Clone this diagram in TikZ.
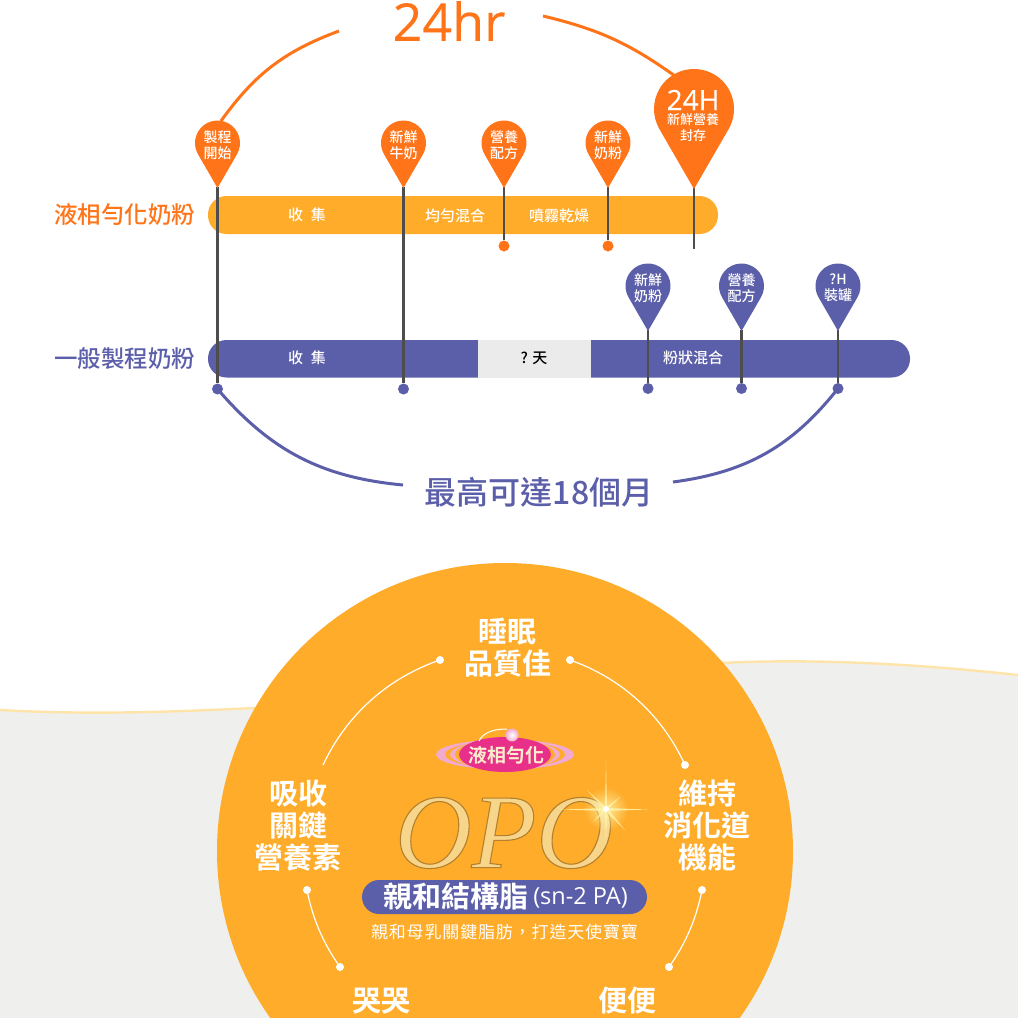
\documentclass[tikz,border=0pt]{standalone}
\usepackage{fontspec}
\usepackage{xcolor}
\usetikzlibrary{positioning,calc,fadings}
\setmainfont{Noto Sans CJK TC}
\newfontfamily\boldfont{Noto Sans CJK TC Bold}
\newfontfamily\mediumfont{Noto Sans CJK TC Medium}
\newfontfamily\latinfont{Open Sans}
\newfontfamily\heavylatinfont[FakeBold=0.25]{Open Sans}
\newfontfamily\opofont{Liberation Serif Italic}
\definecolor{liquidcolor}{RGB}{255,116,24}
\definecolor{amberbar}{RGB}{254,172,41}
\definecolor{violetbar}{RGB}{91,94,169}
\definecolor{stemcolor}{RGB}{77,77,77}
\definecolor{waitcolor}{RGB}{235,235,235}
\definecolor{floorcolor}{RGB}{239,239,237}
\definecolor{creamline}{RGB}{255,228,170}
\definecolor{goldcolor}{RGB}{247,214,140}
\definecolor{logopink}{RGB}{232,48,138}
\definecolor{logolight}{RGB}{243,170,207}
\definecolor{sparkcolor}{RGB}{255,244,170}
\tikzfading[name=glowfade, inner color=transparent!15, outer color=transparent!100]
\newcommand{\pinshape}[5]{% colour, x, y, radius, tip y
  \fill[#1] (#2,#5) -- ($(#2,#3)+(30:#4)$) arc[start angle=30,end angle=-210,radius=#4] -- cycle;}
\begin{document}
\begin{tikzpicture}[
    x=1pt, y=-1pt,
    every node/.style={inner sep=0pt, align=center},
    rowlabel/.style={font=\mediumfont\fontsize{23.5}{23.5}\selectfont},
    pintext/.style={text=white, font=\mediumfont\fontsize{14}{16}\selectfont},
    bartext/.style={text=white, font=\mediumfont\fontsize{15}{15}\selectfont},
    stem/.style={stemcolor, line width=2.4pt},
    orangedot/.style={circle, fill=liquidcolor, minimum size=11pt},
    violetdot/.style={circle, fill=violetbar, minimum size=11pt},
    whitedot/.style={circle, fill=white, minimum size=8pt},
    span/.style={line width=3pt},
    ring/.style={white, line width=1.2pt},
    benefit/.style={text=white, font=\boldfont\fontsize{29}{32}\selectfont},
    ray/.style={sparkcolor, opacity=0.85}
]
\useasboundingbox (0,0) rectangle (1018,1018);
\fill[white] (0,0) rectangle (1018,1018);

% Floor
\fill[floorcolor] (0,710) .. controls (90,715) and (170,712) .. (255,708) -- (720,663)
    .. controls (800,659) and (900,662) .. (1018,675) -- (1018,1018) -- (0,1018) -- cycle;
\draw[creamline, line width=2.4pt] (0,710) .. controls (90,715) and (170,712) .. (255,708);
\draw[creamline, line width=2.4pt] (720,663) .. controls (800,659) and (900,662) .. (1018,675);

% Bars
\fill[amberbar, rounded corners=18.5pt] (208,196) rectangle (718,234);
\fill[violetbar, rounded corners=18.5pt] (208,340) rectangle (910,377.5);
\fill[waitcolor] (478,340) rectangle (591,377.5);

\node[rowlabel, text=liquidcolor] (liquidrow) at (124.5,215) {液相勻化奶粉};
\node[rowlabel, text=violetbar] (commonrow) at (124.5,359) {一般製程奶粉};
\node[bartext] (collect1) at (307,215) {收\hspace{8pt}集};
\node[bartext] (mix1) at (455,216) {均勻混合};
\node[bartext] (dry1) at (559,216) {噴霧乾燥};
\node[bartext] (collect2) at (307,358) {收\hspace{8pt}集};
\node[font=\mediumfont\fontsize{15}{15}\selectfont] (wait) at (534,358) {? 天};
\node[bartext] (mix2) at (693,358) {粉狀混合};

% End dots
\node[violetdot] (dot1) at (217.5,389) {};
\node[violetdot] (dot2) at (403.5,389) {};
\node[orangedot] (dot3) at (504,246) {};
\node[orangedot] (dot4) at (608,246) {};
\coordinate (dot5) at (694,249);
\node[violetdot] (dot6) at (648,388.5) {};
\node[violetdot] (dot7) at (741.5,388.5) {};
\node[violetdot] (dot8) at (838,388.5) {};

% Stems
\coordinate (tip1) at (217.5,187);
\coordinate (tip2) at (403.5,187);
\coordinate (tip3) at (504,187);
\coordinate (tip4) at (608,187);
\coordinate (tip5) at (694,187);
\coordinate (tip6) at (648,330);
\coordinate (tip7) at (741.5,330);
\coordinate (tip8) at (838,330);
\draw[stem] (tip1) -- (dot1);
\draw[stem] (tip2) -- (dot2);
\draw[stem] (tip3) -- (dot3);
\draw[stem] (tip4) -- (dot4);
\draw[stem] (tip5) -- (dot5);
\draw[stem] (tip6) -- (dot6);
\draw[stem] (tip7) -- (dot7);
\draw[stem] (tip8) -- (dot8);

% Pins
\pinshape{liquidcolor}{217.5}{143}{22.5}{188}
\pinshape{liquidcolor}{403.5}{143}{22.5}{188}
\pinshape{liquidcolor}{504}{143}{22.5}{188}
\pinshape{liquidcolor}{608}{143}{22.5}{188}
\pinshape{liquidcolor}{694}{109}{40}{189}
\pinshape{violetbar}{648}{286}{22.5}{331}
\pinshape{violetbar}{741.5}{286}{22.5}{331}
\pinshape{violetbar}{838}{286}{22.5}{331}
\node[pintext] (pin1) at (217.5,145) {製程\\開始};
\node[pintext] (pin2) at (403.5,145) {新鮮\\牛奶};
\node[pintext] (pin3) at (504,145) {營養\\配方};
\node[pintext] (pin4) at (608,145) {新鮮\\奶粉};
\node[text=white, font=\heavylatinfont\fontsize{28}{28}\selectfont] (pin5a) at (693,100) {24H};
\node[text=white, font=\mediumfont\fontsize{13}{15.5}\selectfont] (pin5b) at (693,127.5) {新鮮營養\\封存};
\node[pintext] (pin6) at (648,288) {新鮮\\奶粉};
\node[pintext] (pin7) at (741.5,288) {營養\\配方};
\node[pintext] (pin8) at (838,288) {?H\\裝罐};

% Spans
\node[text=liquidcolor, font=\heavylatinfont\fontsize{52}{52}\selectfont] (hours) at (449,21) {24hr};
\node[text=violetbar, font=\mediumfont\fontsize{32}{32}\selectfont] (months) at (539,492) {最高可達18個月};
\coordinate (hoursleft) at (339,31);
\coordinate (hoursright) at (543,16);
\coordinate (monthsleft) at (403,485);
\coordinate (monthsright) at (673,482);
\coordinate (pin1top) at (221,121);
\coordinate (pin5top) at (675,76);
\draw[span, liquidcolor] (pin1top) to[bend left=17] (hoursleft);
\draw[span, liquidcolor] (hoursright) to[bend left=11] (pin5top);
\draw[span, violetbar] (dot1.center) to[bend right=22] (monthsleft);
\draw[span, violetbar] (monthsright) to[bend right=22] (dot8.center);

% Circle
\fill[amberbar] (505,851) circle[radius=288];
\node[whitedot] (ringa) at (440,660) {};
\coordinate (ringb) at (323,765);
\node[whitedot] (ringc) at (570,660) {};
\node[whitedot] (ringd) at (685,765) {};
\node[whitedot] (ringe) at (307,890) {};
\node[whitedot] (ringf) at (340,967) {};
\node[whitedot] (ringg) at (702,890) {};
\node[whitedot] (ringh) at (669,967) {};
\draw[ring] (ringa.center) to[bend right=23, looseness=0.9] (ringb);
\draw[ring] (ringc.center) to[bend left=23, looseness=0.9] (ringd.center);
\draw[ring] (ringe.center) to[bend right=12, looseness=0.9] (ringf.center);
\draw[ring] (ringg.center) to[bend left=12, looseness=0.9] (ringh.center);

\node[benefit] (sleep) at (507.5,648) {睡眠\\品質佳};
\node[benefit] (absorb) at (298,826) {吸收\\關鍵\\營養素};
\node[benefit] (digest) at (707,826) {維持\\消化道\\機能};
\node[benefit] (cry) at (381,1001) {哭哭};
\node[benefit] (poop) at (627,1001) {便便};

% Logo
\fill[logolight] (505,754.5) ellipse[x radius=69, y radius=15];
\fill[amberbar] (505,754.5) ellipse[x radius=60, y radius=13.5];
\fill[logolight] (505,754.5) ellipse[x radius=55, y radius=14];
\fill[amberbar] (505,754.5) ellipse[x radius=50, y radius=15];
\fill[logopink] (505,754.5) ellipse[x radius=46, y radius=17.5];
\draw[white, line width=1pt] (479,741) .. controls (483,733) and (492,729) .. (507,729);
\shade[inner color=white, outer color=logolight] (512,735) circle[radius=6.5];
\node[text=goldcolor!45!white, font=\boldfont\fontsize{19}{19}\selectfont] (logotext) at (506,755) {液相勻化};

% OPO
\node[text=goldcolor, font=\opofont\fontsize{106}{106}\selectfont] (opo) at (504,833)
    {\special{pdf:code 2 Tr 1.1 w 0.70 0.50 0.18 RG}OPO\special{pdf:code 0 Tr 0 w}};

% Sparkle
\fill[sparkcolor, path fading=glowfade] (606,809) circle[radius=22];
\fill[ray] (606,760) -- (607,809) -- (605,809) -- cycle;
\fill[ray] (606,846) -- (607,809) -- (605,809) -- cycle;
\fill[ray] (562,809.5) -- (606,808) -- (606,811) -- cycle;
\fill[ray] (648,809.5) -- (606,808) -- (606,811) -- cycle;
\fill[ray] (587,790) -- (607,808) -- (605,810) -- cycle;
\fill[ray] (625,830) -- (607,808) -- (605,810) -- cycle;
\fill[ray] (620,797) -- (605,808) -- (607,810) -- cycle;
\fill[ray] (593,822) -- (605,808) -- (607,810) -- cycle;
\fill[white] (606,809) circle[radius=3];

% Pill
\fill[violetbar, rounded corners=17pt] (362,880) rectangle (647,914);
\node[text=white, font=\boldfont\fontsize{29}{29}\selectfont] (structure) at (455.5,896.5) {親和結構脂};
\node[text=white, font=\latinfont\fontsize{23.5}{23.5}\selectfont] (snpa) at (580.5,898) {(sn-2 PA)};
\node[text=white, font=\fontsize{17}{17}\selectfont] (motto) at (504.5,932) {\addfontfeature{LetterSpace=5}親和母乳關鍵脂肪，打造天使寶寶};

\end{tikzpicture}
\end{document}
